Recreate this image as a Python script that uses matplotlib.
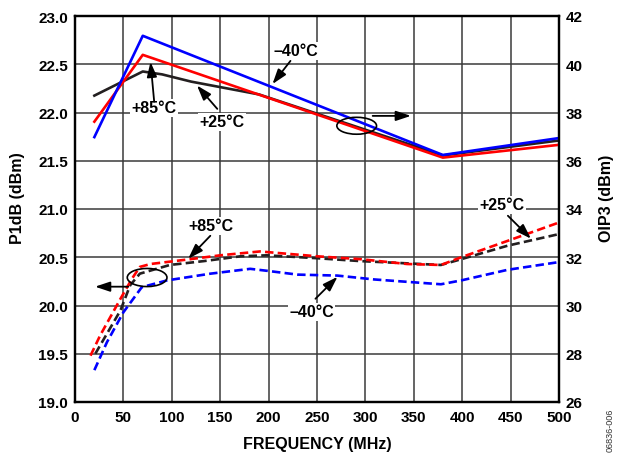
"""
P1dB and OIP3 vs. frequency at three temperatures.
"""

import numpy as np
import matplotlib
matplotlib.use("Agg")
import matplotlib.pyplot as plt
from matplotlib.patches import Ellipse

plt.rcParams['font.family'] = ['Liberation Sans', 'DejaVu Sans']
plt.rcParams['font.weight'] = 'bold'

BLUE = '#0000ff'
RED = '#ff0000'
BLACK = '#231f20'

# OIP3 (dBm), right axis, solid lines
oip3_m40_freq = [20, 70, 380, 500]
oip3_m40 = [36.98, 41.18, 36.24, 36.94]
oip3_p85_freq = [20, 70, 380, 500]
oip3_p85 = [37.62, 40.39, 36.13, 36.66]
oip3_p25_freq = [20, 70, 90, 120, 190, 380, 500]
oip3_p25 = [38.70, 39.70, 39.58, 39.28, 38.75, 36.22, 36.84]

# P1dB (dBm), left axis, dashed lines
p1db_p85_freq = [16, 26, 47, 59, 67, 78, 119, 150, 191, 250, 295, 343, 378, 399, 447, 500]
p1db_p85 = [19.48, 19.69, 20.07, 20.28, 20.40, 20.43, 20.48, 20.52, 20.56, 20.51, 20.48,
            20.43, 20.42, 20.50, 20.67, 20.86]
p1db_p25_freq = [21, 47, 57, 67, 98, 133, 171, 198, 250, 295, 378, 399, 447, 500]
p1db_p25 = [19.50, 19.95, 20.21, 20.33, 20.42, 20.46, 20.51, 20.52, 20.49, 20.46, 20.42,
            20.48, 20.62, 20.74]
p1db_m40_freq = [20, 33, 50, 69, 95, 140, 181, 198, 230, 271, 309, 378, 399, 447, 500]
p1db_m40 = [19.33, 19.62, 19.93, 20.19, 20.26, 20.33, 20.38, 20.36, 20.32, 20.31, 20.27,
            20.22, 20.26, 20.37, 20.45]

x_ticks = list(range(0, 501, 50))
p1db_ticks = [19.0, 19.5, 20.0, 20.5, 21.0, 21.5, 22.0, 22.5, 23.0]
oip3_ticks = [26, 28, 30, 32, 34, 36, 38, 40, 42]

W, H = 618, 456
fig = plt.figure(figsize=(W / 100, H / 100), dpi=100)
ax = fig.add_axes([75 / W, 1 - 403 / H, (559 - 75) / W, (403 - 17) / H])
ax2 = ax.twinx()

ax.set_xlim(0, 500)
ax.set_ylim(19, 23)
ax2.set_ylim(26, 42)
ax.set_xticks(x_ticks)
ax.set_yticks(p1db_ticks)
ax.set_yticklabels([f'{v:.1f}' for v in p1db_ticks])
ax2.set_yticks(oip3_ticks)

ax.grid(True, color='#3a3a3a', linewidth=1.1)
ax.set_axisbelow(True)
for a in (ax, ax2):
    a.tick_params(length=0, labelsize=11, pad=5)
    for s in a.spines.values():
        s.set_linewidth(1.6)
        s.set_color('black')
ax.tick_params(axis='x', pad=6)

dash = (3.2, 1.6)
lw = 1.9
ax.plot(p1db_m40_freq, p1db_m40, color=BLUE, lw=lw, dashes=dash)
ax.plot(p1db_p25_freq, p1db_p25, color=BLACK, lw=lw, dashes=dash)
ax.plot(p1db_p85_freq, p1db_p85, color=RED, lw=lw, dashes=dash)

ax2.plot(oip3_p25_freq, oip3_p25, color=BLACK, lw=lw)
ax2.plot(oip3_p85_freq, oip3_p85, color=RED, lw=lw)
ax2.plot(oip3_m40_freq, oip3_m40, color=BLUE, lw=lw)

# annotations (right axis coordinates)
arrow = dict(arrowstyle='-|>,head_length=0.9,head_width=0.3', color='black', lw=1.3,
             shrinkA=0, shrinkB=0)
box = dict(boxstyle='square,pad=0.1', fc='white', ec='none')
notes = [
    ('\u201340°C', (227.7, 40.55), (222.6, 40.14), (204, 39.18)),
    ('+85°C', (81.8, 38.19), (81.8, 38.45), (78, 40.1)),
    ('+25°C', (152, 37.61), (147, 38.15), (126, 39.12)),
    ('+85°C', (140.8, 33.30), (139.8, 32.89), (117, 31.94)),
    ('\u201340°C', (244.3, 29.74), (248.4, 30.28), (271.2, 31.19)),
    ('+25°C', (441, 34.17), (447.2, 33.72), (471, 32.77)),
]
for label, txt_pos, tail, head in notes:
    ax2.text(*txt_pos, label, ha='center', va='center', fontsize=11.5, bbox=box, zorder=5)
    ax2.annotate('', xy=head, xytext=tail, arrowprops=arrow, zorder=6)

ax2.add_patch(Ellipse((291, 37.45), 41, 0.70, fill=False, ec='black', lw=1.2, zorder=6))
ax2.annotate('', xy=(347, 37.86), xytext=(307.5, 37.86), arrowprops=arrow, zorder=6)
ax2.add_patch(Ellipse((74.5, 31.16), 41, 0.75, fill=False, ec='black', lw=1.2, zorder=6))
ax2.annotate('', xy=(20.7, 30.78), xytext=(55, 30.78), arrowprops=arrow, zorder=6)

fig.text(317 / W, 1 - 445 / H, 'FREQUENCY (MHz)', ha='center', va='center', fontsize=11.5)
fig.text(18 / W, 1 - 198 / H, 'P1dB (dBm)', ha='center', va='center', rotation=90,
         fontsize=11.5)
fig.text(606 / W, 1 - 198 / H, 'OIP3 (dBm)', ha='center', va='center', rotation=90,
         fontsize=11.5)
fig.text(610 / W, 1 - 430 / H, '06836-006', ha='center', va='center', rotation=90,
         fontsize=6.5, fontweight='normal', color='#333333')

fig.savefig('out.png', dpi=100)
